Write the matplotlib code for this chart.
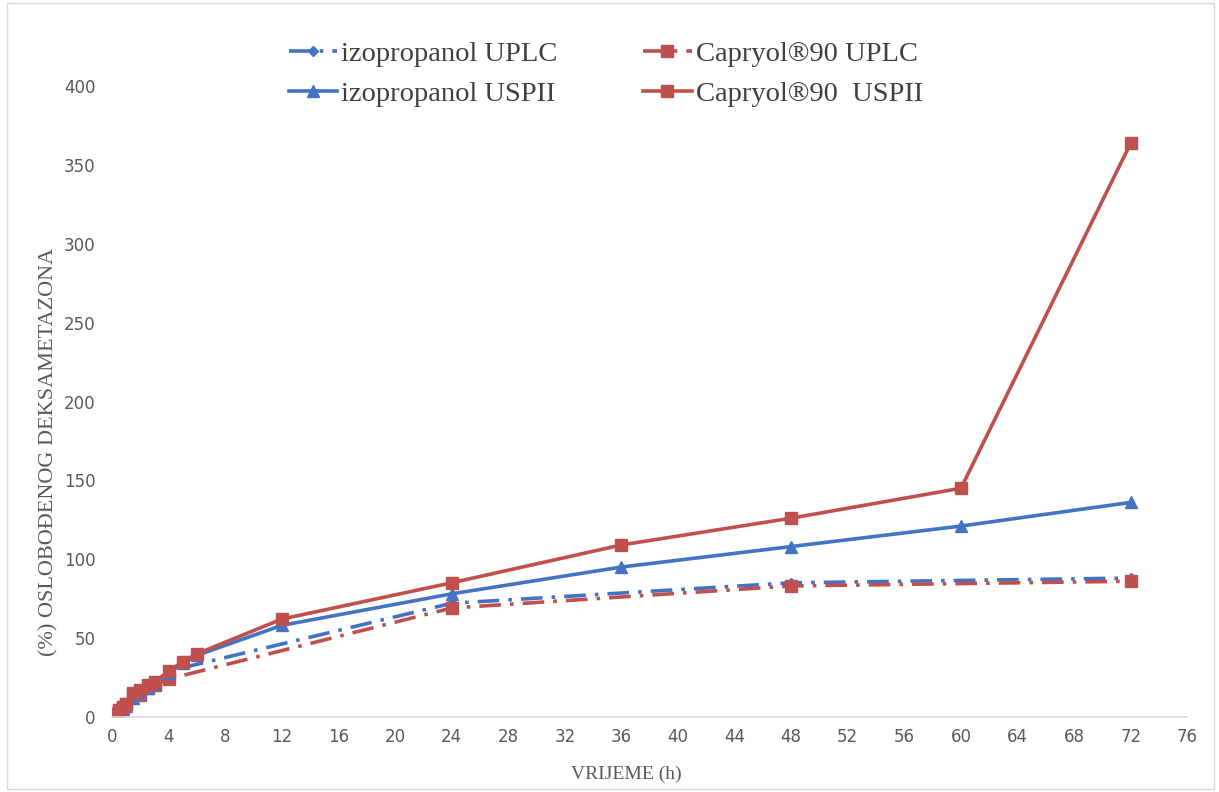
import matplotlib.pyplot as plt
from matplotlib.patches import Rectangle

# time points (h)
t_uplc = [0, 0.25, 0.5, 0.75, 1, 1.5, 2, 2.5, 3, 4, 24, 48, 72]
t_usp = [0, 0.25, 0.5, 0.75, 1, 1.5, 2, 2.5, 3, 4, 5, 6, 12, 24, 36, 48, 60, 72]

izo_uplc = [0, 2, 4, 6, 8, 13, 16, 19, 22, 29, 72, 85, 88]
cap_uplc = [0, 2, 4, 6, 8, 14, 14, 18, 20, 24, 69, 83, 86]
izo_usp = [0, 1, 3, 5, 7, 12, 15, 18, 21, 28, 34, 39, 58, 78, 95, 108, 121, 136]
cap_usp = [0, 2, 4, 6, 8, 15, 17, 20, 22, 29, 35, 40, 62, 85, 109, 126, 145, 364]

labels = ["izopropanol UPLC", "Capryol®90 UPLC", "izopropanol USPII", "Capryol®90  USPII"]
xticks = list(range(0, 77, 4))
yticks = list(range(0, 401, 50))

blue = "#4472C4"
red = "#C0504D"
dashdot = (0, (6, 2.5, 1, 2.5))

fig = plt.figure(figsize=(12.19, 7.92), dpi=100)
ax = fig.add_axes([0.092, 0.095, 0.882, 0.796])
fig.patches.append(Rectangle((0.006, 0.004), 0.99, 0.992, transform=fig.transFigure,
                             fill=False, edgecolor="#d9d9d9", linewidth=1))

l1, = ax.plot(t_uplc, izo_uplc, color=blue, lw=2.6, linestyle=dashdot,
              marker="D", markersize=5, label=labels[0])
l2, = ax.plot(t_uplc, cap_uplc, color=red, lw=2.6, linestyle=dashdot,
              marker="s", markersize=9, label=labels[1])
l3, = ax.plot(t_usp, izo_usp, color=blue, lw=2.6, marker="^", markersize=9,
              label=labels[2])
l4, = ax.plot(t_usp, cap_usp, color=red, lw=2.6, marker="s", markersize=9,
              label=labels[3])

ax.set_xlim(0, 76)
ax.set_ylim(0, 400)
ax.set_xticks(xticks)
ax.set_yticks(yticks)
ax.tick_params(length=0, labelsize=12, labelcolor="#595959", pad=8)
ax.tick_params(axis="y", pad=12)
for lab in ax.get_xticklabels() + ax.get_yticklabels():
    lab.set_family("Liberation Sans Narrow")
for s in ["top", "right", "left"]:
    ax.spines[s].set_visible(False)
ax.spines["bottom"].set_color("#d9d9d9")
ax.spines["bottom"].set_linewidth(1.2)

ax.set_xlabel("VRIJEME (h)", family="Liberation Serif", fontsize=14, color="#595959")
ax.xaxis.set_label_coords(0.478, -0.077)
ax.set_ylabel("(%) OSLOBOĐENOG DEKSAMETAZONA", family="Liberation Serif", fontsize=16,
              color="#595959")
ax.yaxis.set_label_coords(-0.05, 0.42)

# legend filled column-first, so order handles to get the reference rows
leg = fig.legend(handles=[l1, l3, l2, l4], loc="center", bbox_to_anchor=(0.497, 0.907),
                 ncol=2, frameon=False, prop={"family": "Liberation Serif", "size": 20.5},
                 handlelength=1.7, handletextpad=0.15, columnspacing=3.0, labelspacing=0.5)
for txt in leg.get_texts():
    txt.set_color("#404040")

plt.savefig("out.png", dpi=100)
